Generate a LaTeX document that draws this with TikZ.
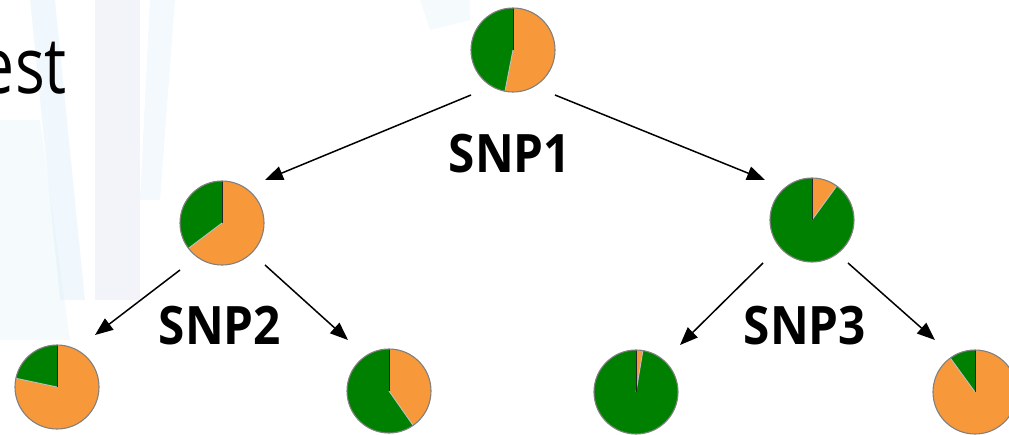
\documentclass[tikz,border=0pt]{standalone}
\usepackage{fontspec}
\setmainfont{Open Sans}
\usetikzlibrary{arrows.meta,calc}
\definecolor{pgreen}{RGB}{0,128,0}
\definecolor{porange}{RGB}{247,153,58}
\definecolor{bgblue}{RGB}{215,236,248}
\definecolor{bglav}{RGB}{232,232,246}
\tikzset{
  pienode/.style={circle, minimum size=84pt, inner sep=0pt, draw=none},
  arr/.style={-{Triangle[length=18pt,width=14pt]}, line width=1.5pt, black},
  snp/.style={font=\fontsize{53}{60}\selectfont\bfseries, inner sep=0pt}
}
\newcommand{\mypie}[3]{%
  \begin{scope}[shift={(#1)}, x=1pt, y=1pt]
    \fill[pgreen] (0,0) circle[radius=42];
    \fill[porange] (0,0) -- (#2:42) arc[start angle=#2, end angle=#3, radius=42] -- cycle;
    \draw[gray!50, line width=0.9pt] (0,0) -- (#2:42);
    \draw[black!85, line width=0.9pt] (0,0) -- (90:42);
    \draw[gray, line width=1.1pt] (0,0) circle[radius=42];
  \end{scope}}
\newcommand{\mypiegreen}[3]{%
  \begin{scope}[shift={(#1)}, x=1pt, y=1pt]
    \fill[porange] (0,0) circle[radius=42];
    \fill[pgreen] (0,0) -- (#2:42) arc[start angle=#2, end angle=#3, radius=42] -- cycle;
    \draw[gray!50, line width=0.9pt] (0,0) -- (#3:42);
    \draw[black!85, line width=0.9pt] (0,0) -- (90:42);
    \draw[gray, line width=1.1pt] (0,0) circle[radius=42];
  \end{scope}}
\begin{document}
\begin{tikzpicture}[x=1pt,y=-1pt]
\useasboundingbox (0,0) rectangle (1009,434);
\clip (0,0) rectangle (1009,434);
% faint background streaks
\fill[bglav, opacity=0.5] (95,0) -- (140,0) -- (140,300) -- (95,300) -- cycle;
\fill[bgblue, opacity=0.35] (30,0) -- (55,0) -- (85,300) -- (60,300) -- cycle;
\fill[bgblue, opacity=0.25] (0,120) -- (40,120) -- (70,340) -- (0,340) -- cycle;
\fill[bgblue, opacity=0.3] (150,0) -- (175,0) -- (160,200) -- (140,200) -- cycle;
\fill[bgblue, opacity=0.25] (420,0) -- (470,0) -- (470,20) -- (430,30) -- cycle;
% text fragment
\node[anchor=base east, inner sep=0pt] (t) at (67,93) {\scalebox{0.8}[1]{\fontsize{78}{90}\selectfont est}};
% pies
\node[pienode] (A) at (513,50) {};
\node[pienode] (B) at (222,223) {};
\node[pienode] (C) at (812,220) {};
\node[pienode] (D) at (57,387) {};
\node[pienode] (E) at (389,391) {};
\node[pienode] (F) at (636,392) {};
\node[pienode] (G) at (975,392) {};
\mypie{A}{-101}{90}
\mypiegreen{B}{90}{217}
\mypie{C}{54}{90}
\mypiegreen{D}{90}{168}
\mypie{E}{-55}{90}
\mypie{F}{80.5}{90}
\mypiegreen{G}{90}{126}
% arrows
\draw[arr] ($(A)+(-42,45)$) -- ($(B)+(43,-43)$);
\draw[arr] ($(A)+(42,45)$) -- ($(C)+(-47,-40)$);
\draw[arr] ($(B)+(-42,47)$) -- ($(D)+(38,-52)$);
\draw[arr] ($(B)+(43,42)$) -- ($(E)+(-41,-51)$);
\draw[arr] ($(C)+(-49,43)$) -- ($(F)+(44,-47)$);
\draw[arr] ($(C)+(36,43)$) -- ($(G)+(-40,-52)$);
% labels
\node[snp] (s1) at (510,154) {\scalebox{0.9}[1]{SNP1}};
\node[snp] (s2) at (220,326) {\scalebox{0.9}[1]{SNP2}};
\node[snp] (s3) at (805,326) {\scalebox{0.9}[1]{SNP3}};
\end{tikzpicture}
\end{document}
